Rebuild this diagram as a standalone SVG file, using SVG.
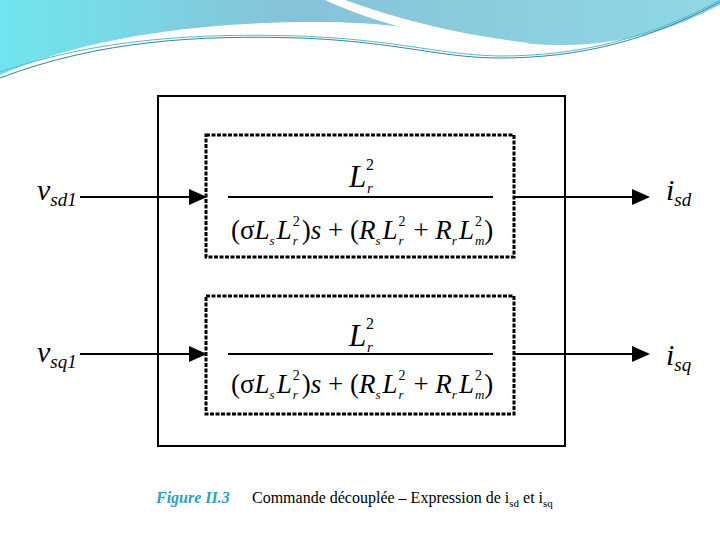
<svg xmlns="http://www.w3.org/2000/svg" width="720" height="540" viewBox="0 0 720 540">
<defs>
<linearGradient id="bg" x1="0" y1="0" x2="1" y2="0"><stop offset="0" stop-color="#6fe6ef"/><stop offset="0.4" stop-color="#86c2d8"/><stop offset="1" stop-color="#8fd8e6"/></linearGradient>
<marker id="ah" markerWidth="18" markerHeight="16" refX="16" refY="8" orient="auto" markerUnits="userSpaceOnUse"><path d="M0,0 L18,8 L0,16 Z" fill="#000"/></marker>
<style>
text{font-family:"Liberation Serif","DejaVu Serif",serif;fill:#000}
.m{font-style:italic}
.s{font-size:14px;font-style:normal}
.b{font-size:13px;font-style:italic}
.fig{fill:#2aa0c8;font-weight:bold;font-style:italic}
.dash{fill:none;stroke:#000;stroke-width:3;stroke-dasharray:4 1.5}
.ln{stroke:#000;stroke-width:2;fill:none}
</style>
</defs>
<rect width="720" height="540" fill="#fff"/>
<path d="M0,0 H720 V5 C690,20 640,45 560,45 C470,45 430,20 300,22 C180,24 80,40 0,75 Z" fill="url(#bg)"/>
<path d="M325,0 C380,25 440,40 520,45 L530,43 C460,35 400,20 345,0 Z" fill="#fff"/>
<path d="M0,78 C100,40 200,35 300,38 C400,42 440,58 500,58 C580,58 650,40 720,2" fill="none" stroke="#2a8a9a" stroke-width="1"/>
<path d="M0,72 C100,38 200,33 300,36 C400,40 440,55 500,56 C580,56 650,38 720,0" fill="none" stroke="#5ab8c8" stroke-width="1"/>
<g id="outer"><rect x="158" y="96" width="407" height="350" fill="none" stroke="#000" stroke-width="2"/></g>
<g id="tf1">
<rect class="dash" x="206" y="135" width="308" height="122"/>
<text class="m" x="349" y="187" font-size="31">L</text><text class="m" x="367" y="193" font-size="15">r</text><text x="366" y="170" font-size="16">2</text>
<line class="ln" x1="228" y1="197" x2="493" y2="197"/>
<text x="231" y="239" font-size="27">(σ<tspan class="m">L</tspan><tspan class="b" dy="6">s</tspan><tspan class="m" dx="2" dy="-6">L</tspan><tspan class="s" dx="1" dy="-13">2</tspan><tspan class="b" dx="-7" dy="19">r</tspan><tspan dx="4" dy="-6">)</tspan><tspan class="m">s</tspan> + (<tspan class="m">R</tspan><tspan class="b" dy="6">s</tspan><tspan class="m" dx="2" dy="-6">L</tspan><tspan class="s" dx="1" dy="-13">2</tspan><tspan class="b" dx="-7" dy="19">r</tspan><tspan dx="3" dy="-6"> + </tspan><tspan class="m">R</tspan><tspan class="b" dy="6">r</tspan><tspan class="m" dx="2" dy="-6">L</tspan><tspan class="s" dx="1" dy="-13">2</tspan><tspan class="b" dx="-7" dy="19">m</tspan><tspan dy="-6">)</tspan></text>
</g>
<g id="tf2">
<rect class="dash" x="206" y="296" width="308" height="118"/>
<text class="m" x="349" y="346" font-size="31">L</text><text class="m" x="367" y="352" font-size="15">r</text><text x="366" y="329" font-size="16">2</text>
<line class="ln" x1="228" y1="354" x2="493" y2="354"/>
<text x="231" y="393" font-size="27">(σ<tspan class="m">L</tspan><tspan class="b" dy="6">s</tspan><tspan class="m" dx="2" dy="-6">L</tspan><tspan class="s" dx="1" dy="-13">2</tspan><tspan class="b" dx="-7" dy="19">r</tspan><tspan dx="4" dy="-6">)</tspan><tspan class="m">s</tspan> + (<tspan class="m">R</tspan><tspan class="b" dy="6">s</tspan><tspan class="m" dx="2" dy="-6">L</tspan><tspan class="s" dx="1" dy="-13">2</tspan><tspan class="b" dx="-7" dy="19">r</tspan><tspan dx="3" dy="-6"> + </tspan><tspan class="m">R</tspan><tspan class="b" dy="6">r</tspan><tspan class="m" dx="2" dy="-6">L</tspan><tspan class="s" dx="1" dy="-13">2</tspan><tspan class="b" dx="-7" dy="19">m</tspan><tspan dy="-6">)</tspan></text>
</g>
<g id="labels">
<text class="m" x="37" y="200" font-size="30">v<tspan font-size="19" dy="6">sd1</tspan></text>
<text class="m" x="37" y="362" font-size="30">v<tspan font-size="19" dy="6">sq1</tspan></text>
<text class="m" x="666" y="200" font-size="30">i<tspan font-size="19" dy="6">sd</tspan></text>
<text class="m" x="666" y="365" font-size="30">i<tspan font-size="19" dy="6">sq</tspan></text>
</g>
<g id="connectors">
<line class="ln" x1="80" y1="197" x2="205" y2="197" marker-end="url(#ah)"/>
<line class="ln" x1="80" y1="354" x2="205" y2="354" marker-end="url(#ah)"/>
<line class="ln" x1="515" y1="197" x2="648" y2="197" marker-end="url(#ah)"/>
<line class="ln" x1="515" y1="354" x2="648" y2="354" marker-end="url(#ah)"/>
</g>
<g id="caption">
<text class="fig" x="156" y="503" font-size="16">Figure II.3</text>
<text x="252" y="503" font-size="16">Commande découplée – Expression de i<tspan font-size="11" dy="4">sd</tspan><tspan dy="-4"> et i</tspan><tspan font-size="11" dy="4">sq</tspan></text>
</g>
</svg>
